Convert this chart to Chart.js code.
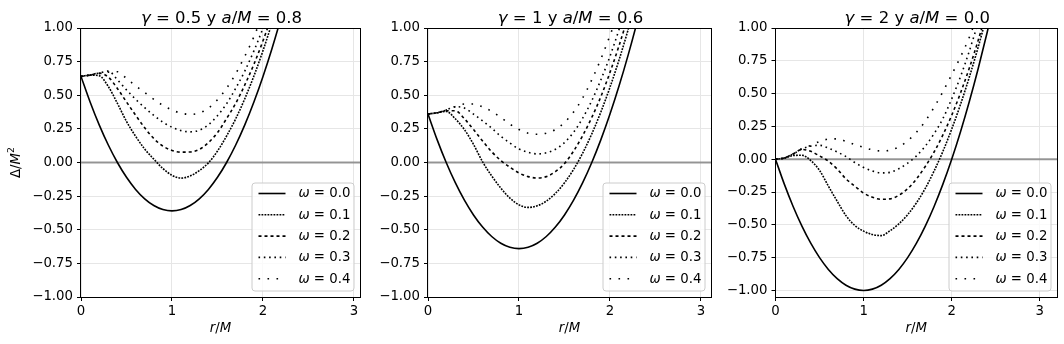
<!DOCTYPE html>
<html>
<head>
<meta charset="utf-8">
<script src="https://cdn.jsdelivr.net/npm/chart.js@4.4.0/dist/chart.umd.min.js"></script>
<style>
html,body{margin:0;padding:0;background:#fff;}
#wrap{position:relative;width:1064px;height:344px;overflow:hidden;background:#fff;}
#wrap canvas{position:absolute;left:0;top:0;}
</style>
</head>
<body>
<div id="wrap">
<canvas id="c1" width="1064" height="344"></canvas>
<canvas id="c2" width="1064" height="344"></canvas>
<canvas id="c3" width="1064" height="344"></canvas>
</div>
<script>
// ---------- data ----------
const rValues = [0,0.1,0.2,0.3,0.4,0.5,0.6,0.7,0.8,0.9,1.0,1.1,1.2,1.3,1.4,1.5,1.6,1.7,1.8,1.9,2.0,2.1,2.2,2.3,2.4,2.5];
const omegaValues = ['0.0','0.1','0.2','0.3','0.4'];
const gammaValues = ['0.5','1','2'];
const spinValues = ['0.8','0.6','0.0'];
const xTickValues = [0,1,2,3];
const yTickValues = [-1,-0.75,-0.5,-0.25,0,0.25,0.5,0.75,1];

// panel 1: gamma = 0.5, a/M = 0.8
const p1w0 = [0.64,0.45,0.28,0.13,0.00,-0.11,-0.20,-0.27,-0.32,-0.35,-0.36,-0.35,-0.32,-0.27,-0.20,-0.11,0.00,0.13,0.28,0.45,0.64,0.85,1.08,1.33,1.60,1.89];
const p1w1 = [0.64,0.65,0.645,0.565,0.44,0.305,0.195,0.10,0.025,-0.045,-0.095,-0.116,-0.10,-0.06,-0.003,0.085,0.197,0.325,0.474,0.643,0.832,1.041,1.27,1.518,1.787,2.075];
const p1w2 = [0.64,0.65,0.665,0.635,0.55,0.45,0.352,0.258,0.178,0.122,0.09,0.077,0.078,0.097,0.148,0.222,0.327,0.44,0.577,0.73,0.905,1.10,1.324,1.566,1.828,2.11];
const p1w3 = [0.64,0.65,0.665,0.68,0.615,0.54,0.47,0.408,0.35,0.30,0.262,0.237,0.228,0.24,0.28,0.348,0.437,0.552,0.68,0.83,1.0,1.197,1.414,1.653,1.913,2.19];
const p1w4 = [0.64,0.65,0.66,0.672,0.675,0.625,0.57,0.52,0.47,0.425,0.39,0.367,0.358,0.368,0.404,0.467,0.552,0.66,0.79,0.935,1.11,1.307,1.524,1.76,2.02,2.30];

// panel 2: gamma = 1, a/M = 0.6
const p2w0 = [0.36,0.17,0.00,-0.15,-0.28,-0.39,-0.48,-0.55,-0.60,-0.63,-0.64,-0.63,-0.60,-0.55,-0.48,-0.39,-0.28,-0.15,0.00,0.17,0.36,0.57,0.80,1.05,1.32,1.61];
const p2w1 = [0.36,0.37,0.38,0.325,0.245,0.135,0.005,-0.10,-0.19,-0.265,-0.315,-0.334,-0.322,-0.287,-0.23,-0.151,-0.051,0.07,0.213,0.376,0.56,0.764,0.989,1.234,1.50,1.78];
const p2w2 = [0.36,0.37,0.385,0.385,0.325,0.245,0.16,0.08,0.015,-0.035,-0.078,-0.105,-0.115,-0.105,-0.068,-0.008,0.085,0.20,0.335,0.49,0.67,0.87,1.09,1.33,1.59,1.87];
const p2w3 = [0.36,0.37,0.39,0.415,0.405,0.36,0.31,0.255,0.195,0.145,0.10,0.076,0.064,0.072,0.098,0.148,0.225,0.33,0.46,0.615,0.79,0.99,1.205,1.44,1.70,1.98];
const p2w4 = [0.36,0.37,0.39,0.415,0.435,0.435,0.413,0.38,0.335,0.285,0.245,0.218,0.21,0.218,0.245,0.298,0.375,0.48,0.615,0.77,0.945,1.135,1.35,1.59,1.85,2.13];

// panel 3: gamma = 2, a/M = 0.0
const p3w0 = [0,-0.19,-0.36,-0.51,-0.64,-0.75,-0.84,-0.91,-0.96,-0.99,-1.0,-0.99,-0.96,-0.91,-0.84,-0.75,-0.64,-0.51,-0.36,-0.19,0.0,0.21,0.44,0.69,0.96,1.25];
const p3w1 = [0,0.008,0.028,0.03,-0.01,-0.085,-0.205,-0.32,-0.43,-0.505,-0.548,-0.574,-0.582,-0.545,-0.493,-0.422,-0.332,-0.222,-0.09,0.06,0.23,0.418,0.626,0.853,1.10,1.37];
const p3w2 = [0,0.01,0.04,0.075,0.06,0.025,-0.015,-0.075,-0.15,-0.205,-0.258,-0.29,-0.305,-0.302,-0.275,-0.225,-0.15,-0.055,0.055,0.185,0.335,0.505,0.695,0.905,1.14,1.40];
const p3w3 = [0,0.01,0.04,0.077,0.10,0.106,0.085,0.055,0.02,-0.025,-0.063,-0.09,-0.104,-0.10,-0.072,-0.03,0.025,0.10,0.195,0.31,0.46,0.63,0.825,1.045,1.29,1.55];
const p3w4 = [0,0.01,0.04,0.08,0.105,0.135,0.153,0.155,0.136,0.112,0.09,0.072,0.063,0.068,0.094,0.14,0.205,0.29,0.395,0.515,0.645,0.78,0.93,1.12,1.34,1.58];

// ---------- styles & layout ----------
const FONT = '"DejaVu Sans", "Liberation Sans", sans-serif';
const dashStyles = [[], [1.8,1.2], [3,3], [1.6,3.7], [1.6,7.4]];
const panels = [
  {id:'c1', L:81,  R:360,  T:28, B:297, xmax:3.066, ymin:-1,    ymax:1, ylabel:true},
  {id:'c2', L:428, R:711,  T:28, B:297, xmax:3.11,  ymin:-1,    ymax:1, ylabel:false},
  {id:'c3', L:775.5, R:1057, T:28, B:297, xmax:3.195, ymin:-1.05, ymax:1, ylabel:false}
];
const seriesSets = [[p1w0,p1w1,p1w2,p1w3,p1w4],[p2w0,p2w1,p2w2,p2w3,p2w4],[p3w0,p3w1,p3w2,p3w3,p3w4]];
const YW = 60, XH = 30, W = 1064, H = 344;

function drawRich(ctx, segs, x, y, size, align){
  let total = 0;
  const widths = segs.map(s=>{
    const fs = s.sup ? size*0.7 : size;
    ctx.font = (s.i ? 'italic ' : '') + fs + 'px ' + FONT;
    const w = ctx.measureText(s.t).width; total += w; return w;
  });
  let cx = align === 'center' ? x - total/2 : (align === 'right' ? x - total : x);
  segs.forEach((s,k)=>{
    const fs = s.sup ? size*0.7 : size;
    ctx.font = (s.i ? 'italic ' : '') + fs + 'px ' + FONT;
    ctx.textAlign = 'left';
    ctx.fillText(s.t, cx, s.sup ? y - size*0.38 : y);
    cx += widths[k];
  });
}

const decor = {
  id:'decor',
  beforeDatasetsDraw(chart){
    const {ctx, chartArea:a, scales:{y}} = chart;
    const y0 = y.getPixelForValue(0);
    ctx.save();
    ctx.strokeStyle = 'rgba(128,128,128,0.8)';
    ctx.lineWidth = 2;
    ctx.beginPath(); ctx.moveTo(a.left, y0); ctx.lineTo(a.right, y0); ctx.stroke();
    ctx.restore();
  },
  afterDraw(chart, args, opts){
    const {ctx, chartArea:a} = chart;
    ctx.save();
    // frame
    ctx.strokeStyle = '#000'; ctx.lineWidth = 1; ctx.setLineDash([]);
    ctx.strokeRect(Math.round(a.left)-0.5, Math.round(a.top)+0.5, Math.round(a.right)-Math.round(a.left)+1, Math.round(a.bottom)-Math.round(a.top));
    // legend
    const dsets = chart.data.datasets;
    const bw = 102, bh = 108;
    const bx = a.right - 6.5 - bw, by = a.bottom - 6.5 - bh;
    ctx.beginPath();
    if (ctx.roundRect) ctx.roundRect(bx+0.5, by+0.5, bw, bh, 3); else ctx.rect(bx+0.5, by+0.5, bw, bh);
    ctx.fillStyle = 'rgba(255,255,255,0.8)'; ctx.fill();
    ctx.strokeStyle = '#cccccc'; ctx.lineWidth = 1; ctx.stroke();
    dsets.forEach((ds,i)=>{
      const yy = by + 11 + i*21.3;
      ctx.strokeStyle = ds.borderColor; ctx.lineWidth = ds.borderWidth;
      ctx.setLineDash(ds.borderDash || []);
      ctx.beginPath(); ctx.moveTo(bx+7, yy); ctx.lineTo(bx+34, yy); ctx.stroke();
      ctx.setLineDash([]);
      ctx.fillStyle = '#000'; ctx.textBaseline = 'middle';
      drawRich(ctx, [{t:'\u03c9', i:true},{t:' = ' + omegaValues[i]}], bx+47, yy+0.5, 13.3, 'left');
    });
    // title
    ctx.fillStyle = '#000'; ctx.textBaseline = 'alphabetic';
    const cx = (a.left + a.right)/2;
    drawRich(ctx, [{t:'\u03b3', i:true},{t:' = ' + opts.gamma + ' y '},{t:'a', i:true},{t:'/'},{t:'M', i:true},{t:' = ' + opts.spin}], cx + 1, 22.5, 16.5, 'center');
    // x label
    ctx.textBaseline = 'middle';
    drawRich(ctx, [{t:'r', i:true},{t:'/'},{t:'M', i:true}], cx, 328.5, 13.3, 'center');
    // y label
    if (opts.ylabel){
      ctx.save();
      ctx.translate(17, (a.top + a.bottom)/2);
      ctx.rotate(-Math.PI/2);
      drawRich(ctx, [{t:'\u0394/'},{t:'M', i:true},{t:'2', sup:true}], 0, 0, 13.3, 'center');
      ctx.restore();
    }
    ctx.restore();
  }
};

function fmtY(v){
  const s = Math.abs(v).toFixed(2);
  return (v < -1e-9 ? '\u2212' : '') + s;
}

panels.forEach((p, idx)=>{
  const series = seriesSets[idx];
  const datasets = series.map((ys, i)=>({
    label: '\u03c9 = ' + omegaValues[i],
    data: rValues.map((r, j)=>({x:r, y:ys[j]})),
    borderColor: '#000',
    borderWidth: 1.6,
    borderDash: dashStyles[i],
    pointRadius: 0,
    fill: false,
    cubicInterpolationMode: 'monotone',
    order: 5 - i
  }));
  const tickFont = {family: FONT, size: 13.3};
  new Chart(document.getElementById(p.id), {
    type: 'line',
    data: {datasets},
    plugins: [decor],
    options: {
      responsive: false,
      animation: false,
      devicePixelRatio: 1,
      events: [],
      layout: {padding: {left: p.L - YW, right: W - p.R, top: p.T, bottom: H - p.B - XH}},
      plugins: {
        legend: {display: false},
        tooltip: {enabled: false},
        title: {display: false},
        decor: {gamma: gammaValues[idx], spin: spinValues[idx], ylabel: p.ylabel}
      },
      scales: {
        x: {
          type: 'linear', min: 0, max: p.xmax,
          afterBuildTicks: s => { s.ticks = xTickValues.map(v => ({value: v})); },
          afterFit: s => { s.height = XH; },
          ticks: {font: tickFont, color: '#000', padding: 3, maxRotation: 0, autoSkip: false, callback: v => String(v)},
          grid: {color: '#e6e6e6', lineWidth: 1, tickColor: '#000', tickLength: 4, drawTicks: true},
          border: {display: false}
        },
        y: {
          type: 'linear', min: p.ymin, max: p.ymax,
          afterBuildTicks: s => { s.ticks = yTickValues.map(v => ({value: v})); },
          afterFit: s => { s.width = YW; },
          ticks: {font: tickFont, color: '#000', padding: 4, autoSkip: false, callback: v => fmtY(v)},
          grid: {color: '#e6e6e6', lineWidth: 1, tickColor: '#000', tickLength: 4, drawTicks: true},
          border: {display: false}
        }
      }
    }
  });
});
</script>
</body>
</html>
